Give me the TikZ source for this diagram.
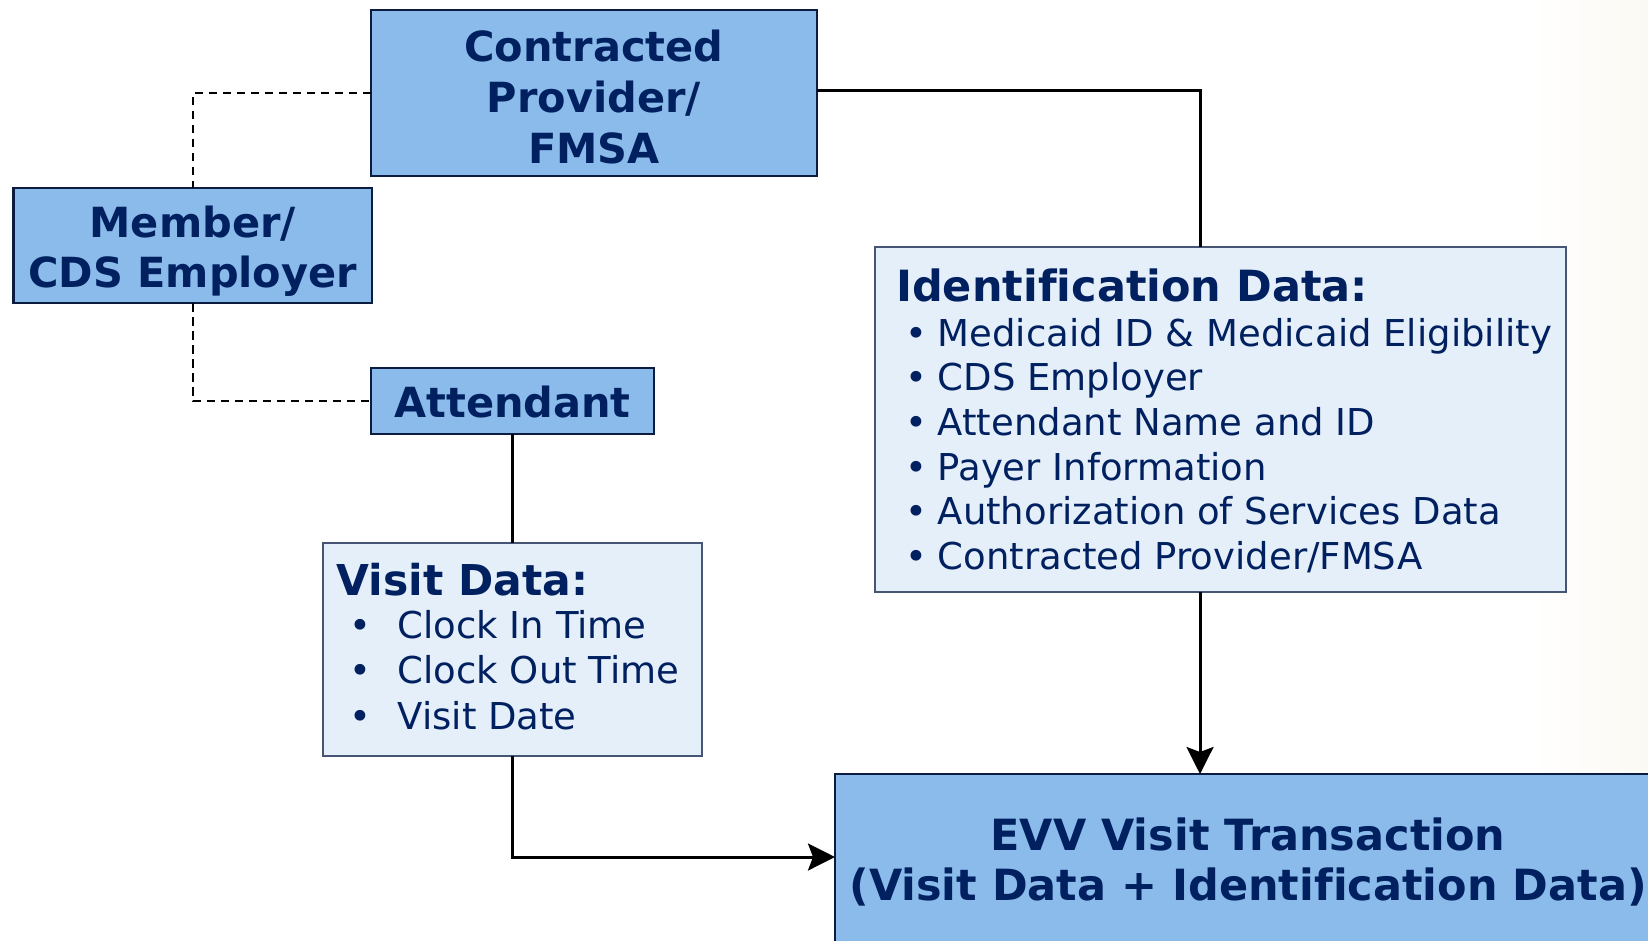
\documentclass[tikz,border=0pt]{standalone}
\usepackage{fontspec}
\setmainfont[Ligatures={NoCommon}]{DejaVu Sans}
\usetikzlibrary{arrows.meta}
\definecolor{navy}{RGB}{0,32,96}
\definecolor{boxblue}{RGB}{138,187,234}
\definecolor{lightblue}{RGB}{229,239,249}
\definecolor{edgedark}{RGB}{12,28,64}
\definecolor{edgegray}{RGB}{70,85,115}
\definecolor{cream}{RGB}{251,249,243}
\begin{document}
\begin{tikzpicture}[x=1pt,y=-1pt,
  darkbox/.style={draw=edgedark, line width=2.5pt, fill=boxblue, inner sep=0pt, outer sep=0pt},
  lightbox/.style={draw=edgegray, line width=1.5pt, fill=lightblue, inner sep=0pt, outer sep=0pt},
  title/.style={inner sep=0pt, anchor=base, text=navy, font=\fontsize{41.5}{50}\selectfont\bfseries},
  bigtitle/.style={inner sep=0pt, anchor=base, text=navy, font=\fontsize{43}{50}\selectfont\bfseries},
  head/.style={inner sep=0pt, anchor=base west, text=navy, font=\fontsize{42.5}{50}\selectfont\bfseries},
  item/.style={inner sep=0pt, anchor=base west, text=navy, font=\fontsize{37}{45}\selectfont},
  bul/.style={inner sep=0pt, anchor=base, text=navy, font=\fontsize{37}{45}\selectfont},
  link/.style={draw=black, line width=3pt},
  dashlink/.style={draw=black, line width=2.5pt, dash pattern=on 8.5pt off 5.5pt},
  tip/.style={-{Stealth[length=27pt,width=27pt,inset=5pt]}}
]
\useasboundingbox (0,0) rectangle (1648,940);
\clip (0,0) rectangle (1648,940);
\fill[white] (0,0) rectangle (1648,940);
\shade[left color=white, right color=cream] (1530,0) rectangle (1648,940);

% boxes
\node[darkbox, minimum width=446pt, minimum height=166pt] (cp) at (594,93) {};
\node[darkbox, minimum width=358.5pt, minimum height=115pt] (mem) at (192.75,245.5) {};
\node[darkbox, minimum width=283pt, minimum height=66pt] (att) at (512.5,401) {};
\node[lightbox, minimum width=379pt, minimum height=213pt] (visit) at (512.5,649.5) {};
\node[lightbox, minimum width=691pt, minimum height=345pt] (id) at (1220.5,419.5) {};
\node[darkbox, minimum width=865pt, minimum height=226pt] (evv) at (1267.5,887) {};

% connectors
\draw[dashlink] (cp.west) -| (mem.north);
\draw[dashlink] (mem.south) |- (att.west);
\draw[link] ([yshift=3pt]cp.east) -| ([xshift=-20.5pt]id.north);
\draw[link] (att.south) -- (visit.north);
\draw[link,tip] ([xshift=-20.5pt]id.south) -- ([xshift=-20.5pt]id.south |- evv.north);
\draw[link,tip] (visit.south) |- ([yshift=30pt]evv.west);

% texts
\node[title] (cpa) at (594,61) {Contracted};
\node[title] (cpb) at (594,112) {Provider/};
\node[title] (cpc) at (594,163) {FMSA};
\node[title] (mema) at (192.7,237) {Member/};
\node[title] (memb) at (192.7,287) {CDS Employer};
\node[title] (atta) at (512.5,417) {Attendant};

\node[head] (vh) at (336.5,595) {Visit Data:};
\foreach \t [count=\i] in {Clock In Time, Clock Out Time, Visit Date}{
  \node[bul] (vb\i) at (360,{638.3+45.5*(\i-1)}) {•};
  \node[item] (vt\i) at (397.5,{638.3+45.5*(\i-1)}) {\t};
}

\node[head, font=\fontsize{43}{50}\selectfont\bfseries] (ih) at (896,301) {Identification Data:};
\foreach \t [count=\i] in {Medicaid ID \& Medicaid Eligibility, CDS Employer, Attendant Name and ID, Payer Information, Authorization of Services Data, Contracted Provider/FMSA}{
  \node[bul] (ib\i) at (916,{346+44.7*(\i-1)}) {•};
  \node[item] (it\i) at (937.5,{346+44.7*(\i-1)}) {\t};
}

\node[bigtitle] (evva) at (1248,850) {EVV Visit Transaction};
\node[bigtitle] (evvb) at (1248,900) {(Visit Data + Identification Data)};
\end{tikzpicture}
\end{document}
